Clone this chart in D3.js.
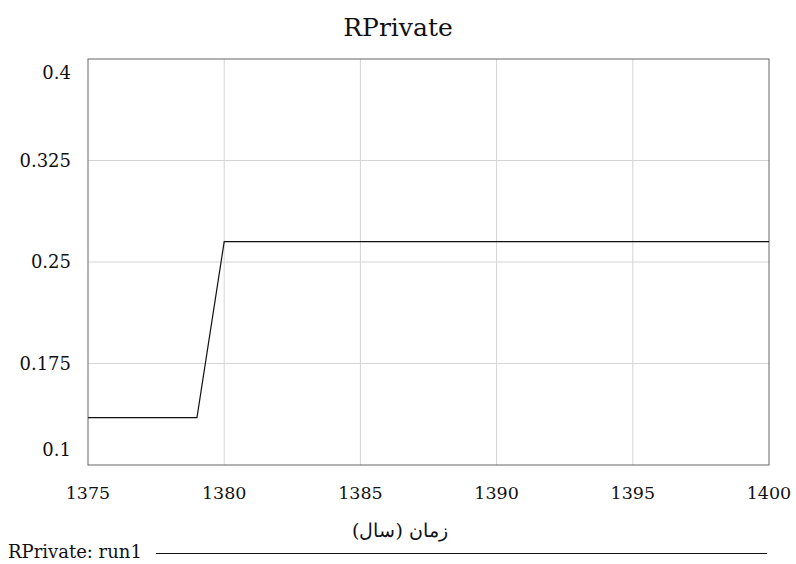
<!DOCTYPE html>
<head>
  <meta charset="utf-8">
  <script src="https://d3js.org/d3.v7.min.js"></script>
  <style>
    body { margin: 0; background: #fff; }
  </style>
</head>
<body>
  <div id="graph"></div>
  <script>
    // data
    var years = d3.range(1375, 1401);
    var rprivate = [0.135, 0.135, 0.135, 0.135, 0.135,
      0.265, 0.265, 0.265, 0.265, 0.265, 0.265, 0.265, 0.265, 0.265, 0.265,
      0.265, 0.265, 0.265, 0.265, 0.265, 0.265, 0.265, 0.265, 0.265, 0.265, 0.265];
    var yTicks = [0.1, 0.175, 0.25, 0.325, 0.4];
    var xTicks = [1375, 1380, 1385, 1390, 1395, 1400];

    var width = 796, height = 564;
    var xmin = 88, xmax = 769, ytop = 59, ybot = 465;
    var serif = "DejaVu Serif";

    var svg = d3.select("#graph").append("svg")
      .attr("width", width)
      .attr("height", height)
      .attr("font-family", serif);

    var x = d3.scaleLinear().domain([1375, 1400]).range([xmin, xmax]);
    var y = d3.scaleLinear().domain([0.1, 0.4]).range([ybot, ytop]);

    // grid
    svg.append("g").selectAll("line.v")
      .data(xTicks.slice(1, -1)).enter()
      .append("line")
      .attr("x1", d => x(d)).attr("x2", d => x(d))
      .attr("y1", ytop).attr("y2", ybot)
      .attr("stroke", "#d4d4d4").attr("stroke-width", 1);
    svg.append("g").selectAll("line.h")
      .data(yTicks.slice(1, -1)).enter()
      .append("line")
      .attr("x1", xmin).attr("x2", xmax)
      .attr("y1", d => y(d)).attr("y2", d => y(d))
      .attr("stroke", "#d4d4d4").attr("stroke-width", 1);

    // frame
    svg.append("rect")
      .attr("x", xmin).attr("y", ytop)
      .attr("width", xmax - xmin).attr("height", ybot - ytop)
      .attr("fill", "none").attr("stroke", "#666").attr("stroke-width", 1);

    // y labels (end labels pushed inward)
    svg.append("g").selectAll("text")
      .data(yTicks).enter()
      .append("text")
      .attr("x", 71)
      .attr("y", function(d) {
        var p = y(d);
        if (d === 0.4) p += 14;
        if (d === 0.1) p -= 15;
        return p + 6;
      })
      .attr("text-anchor", "end")
      .attr("font-size", 18)
      .attr("fill", "#111")
      .text(d => d);

    // x labels
    svg.append("g").selectAll("text")
      .data(xTicks).enter()
      .append("text")
      .attr("x", d => x(d))
      .attr("y", 499)
      .attr("text-anchor", "middle")
      .attr("font-size", 17.5)
      .attr("fill", "#111")
      .text(d => d);

    // line
    var line = d3.line()
      .x((d, i) => x(years[i]))
      .y(d => y(d));
    svg.append("path")
      .datum(rprivate)
      .attr("d", line)
      .attr("fill", "none")
      .attr("stroke", "#111")
      .attr("stroke-width", 1.2);

    // title
    svg.append("text")
      .attr("x", 398).attr("y", 36)
      .attr("text-anchor", "middle")
      .attr("font-size", 25)
      .attr("fill", "#111")
      .text("RPrivate");

    // axis title
    svg.append("text")
      .attr("x", 400).attr("y", 537)
      .attr("text-anchor", "middle")
      .attr("font-size", 19)
      .attr("fill", "#111")
      .text("زمان (سال)");

    // legend
    svg.append("text")
      .attr("x", 8).attr("y", 558)
      .attr("font-size", 18)
      .attr("fill", "#111")
      .text("RPrivate: run1");
    svg.append("line")
      .attr("x1", 156).attr("x2", 767)
      .attr("y1", 553.5).attr("y2", 553.5)
      .attr("stroke", "#111").attr("stroke-width", 1.2);
  </script>
</body>
